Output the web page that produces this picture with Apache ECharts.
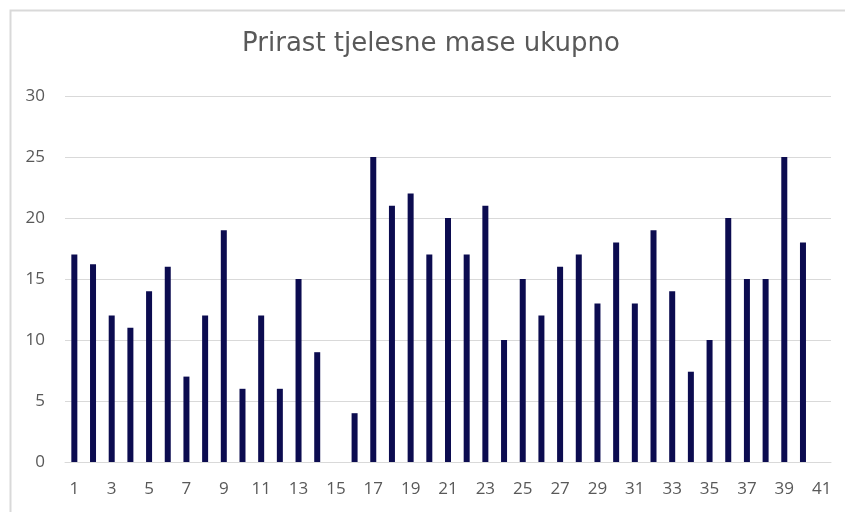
<!DOCTYPE html>
<html>
<head>
<meta charset="utf-8">
<script src="https://cdn.jsdelivr.net/npm/echarts@6/dist/echarts.min.js"></script>
<style>
html,body{margin:0;padding:0;background:#fff;}
#chart{width:845px;height:512px;}
</style>
</head>
<body>
<div id="chart"></div>
<script>
const titleText = 'Prirast tjelesne mase ukupno';
const categories = ['1','2','3','4','5','6','7','8','9','10','11','12','13','14','15','16','17','18','19','20','21','22','23','24','25','26','27','28','29','30','31','32','33','34','35','36','37','38','39','40','41'];
const values = [17,16.2,12,11,14,16,7,12,19,6,12,6,15,9,null,4,25,21,22,17,20,17,21,10,15,12,16,17,13,18,13,19,14,7.4,10,20,15,15,25,18,null];
const yMin = 0, yMax = 30, yStep = 5;

const chart = echarts.init(document.getElementById('chart'), null, {renderer:'canvas'});
const fontFam = '"Open Sans", "Noto Sans", sans-serif';
chart.setOption({
  animation:false,
  backgroundColor:'#ffffff',
  graphic:[{
    type:'rect', left:8, top:8, shape:{width:900, height:600},
    style:{fill:'none', stroke:'#d9d9d9', lineWidth:2}, silent:true
  },{
    type:'text', x:431, y:31, silent:true,
    style:{text:titleText, textAlign:'center', textVerticalAlign:'top',
      font:'normal 26px "DejaVu Sans", sans-serif', fill:'#595959'}
  }],
  grid:{left:65, right:14, top:96, bottom:50, containLabel:false},
  xAxis:{
    type:'category', data:categories, boundaryGap:true,
    axisLine:{lineStyle:{color:'#d9d9d9', width:1}},
    axisTick:{show:false},
    axisLabel:{interval:1, color:'#595959', fontFamily:fontFam, fontSize:17, margin:19}
  },
  yAxis:{
    type:'value', min:yMin, max:yMax, interval:yStep,
    axisLine:{show:false}, axisTick:{show:false},
    splitLine:{lineStyle:{color:'#d9d9d9', width:1}},
    axisLabel:{color:'#595959', fontFamily:fontFam, fontSize:17, margin:20}
  },
  series:[{
    type:'bar', data:values, barWidth:6,
    itemStyle:{color:'#0c0c50'}
  }]
});
</script>
</body>
</html>
